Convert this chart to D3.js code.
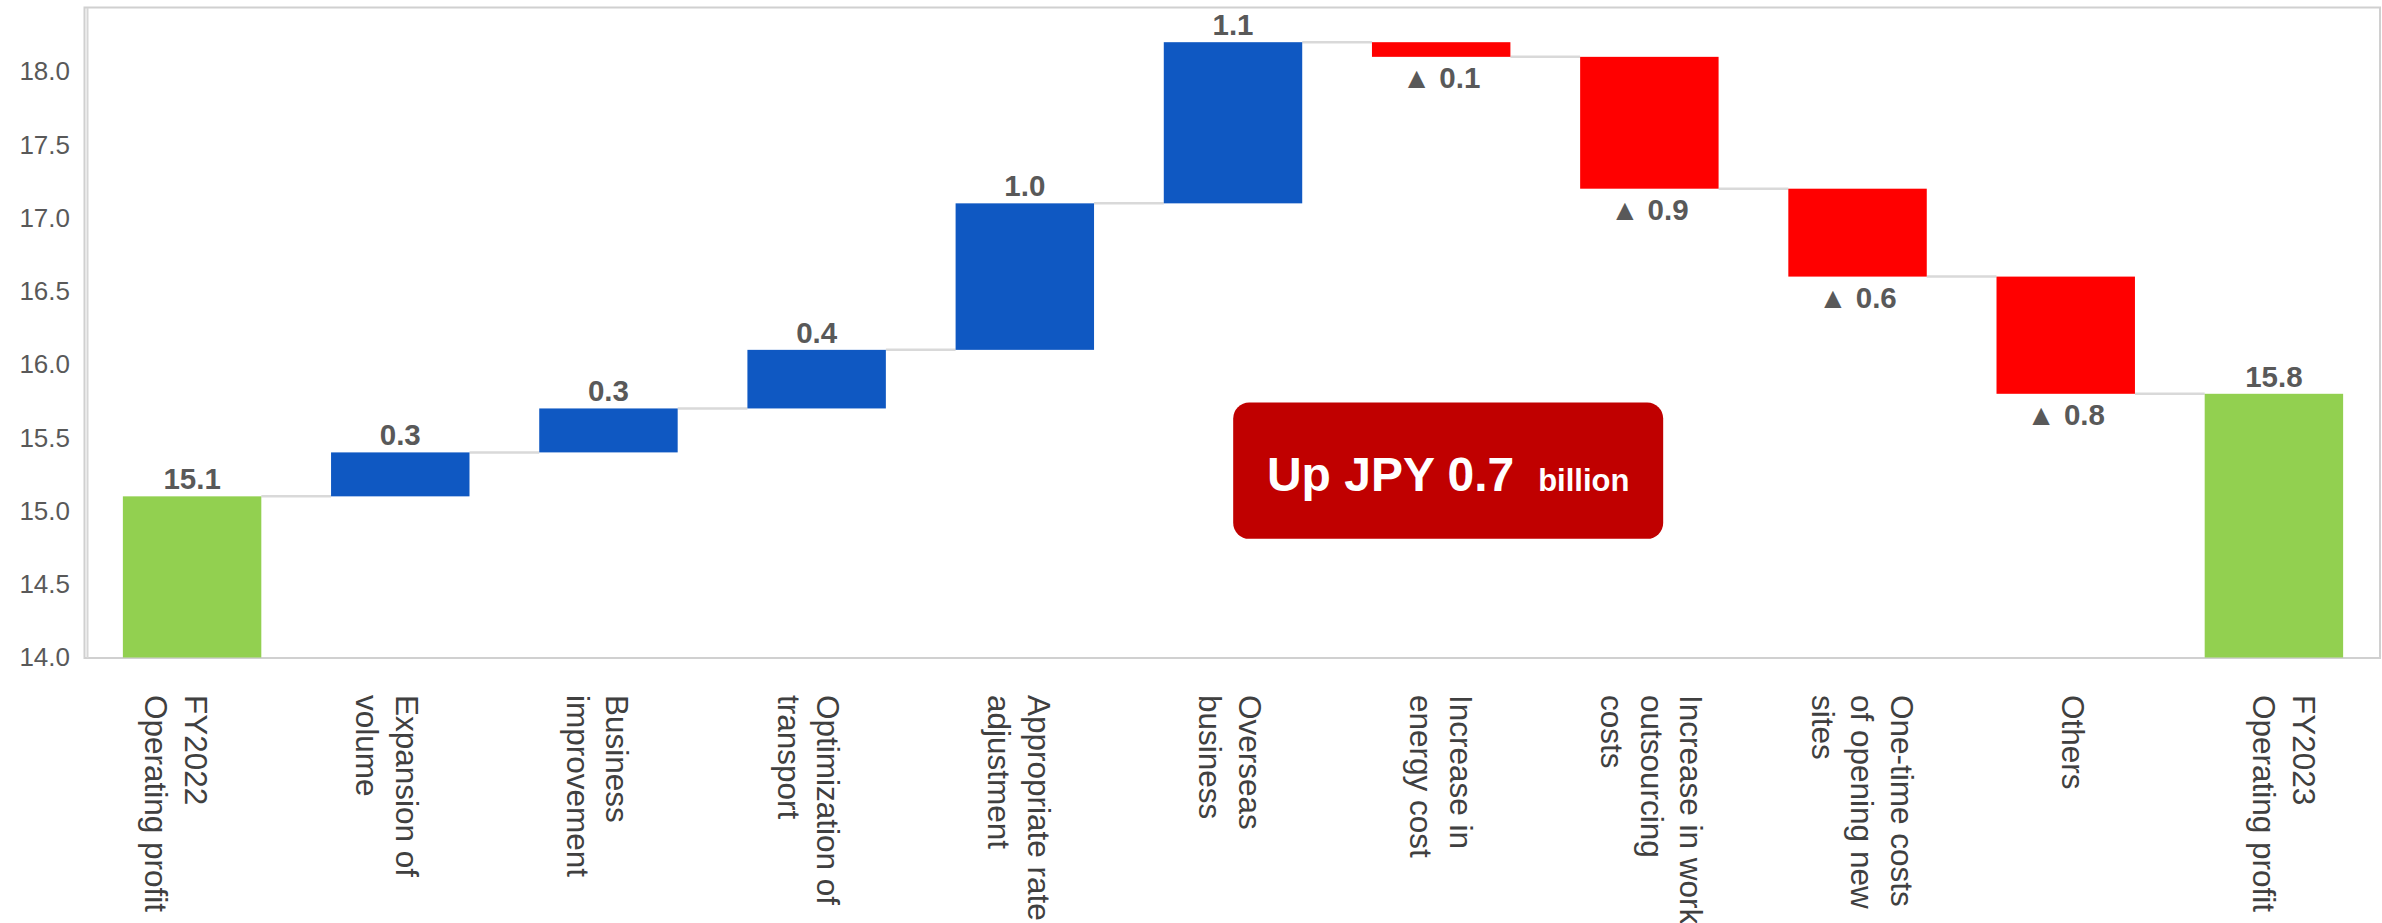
<!DOCTYPE html>
<html>
<head>
<meta charset="utf-8">
<script src="https://cdn.jsdelivr.net/npm/d3@7"></script>
<style>
  body { margin: 0; background: #fff; }
  svg { display: block; font-family: "Liberation Sans", Arial, sans-serif; }
</style>
</head>
<body>
<svg width="2382" height="923"></svg>
<script>
// Data
var categories = ["c1","c2","c3","c4","c5","c6","c7","c8","c9","c10","c11"];
var labelLines = [
  ["FY2022", "Operating profit"],
  ["Expansion of", "volume"],
  ["Business", "improvement"],
  ["Optimization of", "transport"],
  ["Appropriate rate", "adjustment"],
  ["Overseas", "business"],
  ["Increase in", "energy cost"],
  ["Increase in work", "outsourcing", "costs"],
  ["One-time costs", "of opening new", "sites"],
  ["Others"],
  ["FY2023", "Operating profit"]
];
var kinds = ["total","up","up","up","up","up","down","down","down","down","total"];
var values = [15.1, 0.3, 0.3, 0.4, 1.0, 1.1, -0.1, -0.9, -0.6, -0.8, 15.8];
var yTicks = [14.0, 14.5, 15.0, 15.5, 16.0, 16.5, 17.0, 17.5, 18.0];
var calloutMain = "Up JPY 0.7";
var calloutUnit = "billion";

var colors = { total: "#92D050", up: "#0F58C2", down: "#FF0000" };

var svg = d3.select("svg");

// Scales
var x = d3.scaleBand().domain(categories).range([88, 2378]).paddingInner(0.335).paddingOuter(0.1675);
var xLabel = d3.scalePoint().domain(categories).range([165, 2273]);
var y = d3.scaleLinear().domain([14, 18.43]).range([657.5, 8.5]);

// Build waterfall steps
var running = 0;
var steps = values.map(function(v, i) {
  var d = { cat: categories[i], kind: kinds[i], value: v };
  if (kinds[i] === "total") {
    d.lo = 14; d.hi = v; running = v;
  } else {
    d.lo = Math.min(running, running + v);
    d.hi = Math.max(running, running + v);
    running = running + v;
  }
  d.level = running;
  return d;
});

// Plot frame
svg.append("rect")
    .attr("x", 84.5).attr("y", 7.5)
    .attr("width", 2380 - 84.5).attr("height", 658 - 7.5)
    .attr("fill", "none").attr("stroke", "#d0d0d0").attr("stroke-width", 2);
svg.append("line")
    .attr("x1", 87.5).attr("x2", 87.5).attr("y1", 8).attr("y2", 658)
    .attr("stroke", "#d6d6d6").attr("stroke-width", 2);

// Y axis labels
var yAxis = svg.append("g")
    .attr("transform", "translate(85,0)")
    .call(d3.axisLeft(y).tickValues(yTicks).tickFormat(d3.format(".1f")).tickSize(0).tickPadding(15));
yAxis.select(".domain").remove();
yAxis.selectAll("text")
    .attr("font-size", 26)
    .attr("fill", "#595959")
    .style("font-family", "'Liberation Sans', Arial, sans-serif");

// Connectors
svg.append("g").selectAll("line")
    .data(steps.slice(0, -1))
    .enter().append("line")
    .attr("x1", function(d) { return x(d.cat) + x.bandwidth(); })
    .attr("x2", function(d, i) { return x(categories[i + 1]); })
    .attr("y1", function(d) { return y(d.level); })
    .attr("y2", function(d) { return y(d.level); })
    .attr("stroke", "#d9d9d9").attr("stroke-width", 2.5);

// Bars
svg.append("g").selectAll("rect")
    .data(steps)
    .enter().append("rect")
    .attr("x", function(d) { return x(d.cat); })
    .attr("width", x.bandwidth())
    .attr("y", function(d) { return y(d.hi); })
    .attr("height", function(d) { return y(d.lo) - y(d.hi); })
    .attr("fill", function(d) { return colors[d.kind]; });

// Value labels
svg.append("g").selectAll("text")
    .data(steps)
    .enter().append("text")
    .attr("x", function(d) { return x(d.cat) + x.bandwidth() / 2; })
    .attr("y", function(d) { return d.kind === "down" ? y(d.lo) + 31 : y(d.hi) - 7; })
    .attr("text-anchor", "middle")
    .attr("font-size", 29.5)
    .attr("font-weight", "bold")
    .attr("fill", "#595959")
    .text(function(d) {
      return d.kind === "down" ? "\u25B2 " + Math.abs(d.value).toFixed(1) : d.value.toFixed(1);
    });

// Category labels (rotated)
var lineGap = 39.5;
var cat = svg.append("g").selectAll("text")
    .data(categories)
    .enter().append("text")
    .attr("transform", function(c) { return "translate(" + xLabel(c) + ",695) rotate(90)"; })
    .attr("font-size", 31.5)
    .attr("fill", "#404040");
cat.each(function(c, i) {
  var lines = labelLines[i];
  var t = d3.select(this);
  lines.forEach(function(s, k) {
    // rotated frame: negative y is toward screen right
    t.append("tspan")
      .attr("x", 0)
      .attr("y", -((lines.length - 1) * lineGap / 2) + k * lineGap)
      .text(s);
  });
});

// Callout box
var boxX = x("c7") + x.bandwidth() / 2 + 7;
var box = svg.append("g");
box.append("rect")
    .attr("x", boxX - 215).attr("width", 430)
    .attr("y", y(15.74)).attr("height", y(14.81) - y(15.74))
    .attr("rx", 16)
    .attr("fill", "#C00000");
var ct = box.append("text")
    .attr("x", boxX).attr("y", y(14.81) - 48)
    .attr("text-anchor", "middle")
    .attr("fill", "#fff")
    .attr("font-weight", "bold");
ct.append("tspan").attr("font-size", 48).text(calloutMain);
ct.append("tspan").attr("font-size", 31).attr("dx", 24).text(calloutUnit);
</script>
</body>
</html>
